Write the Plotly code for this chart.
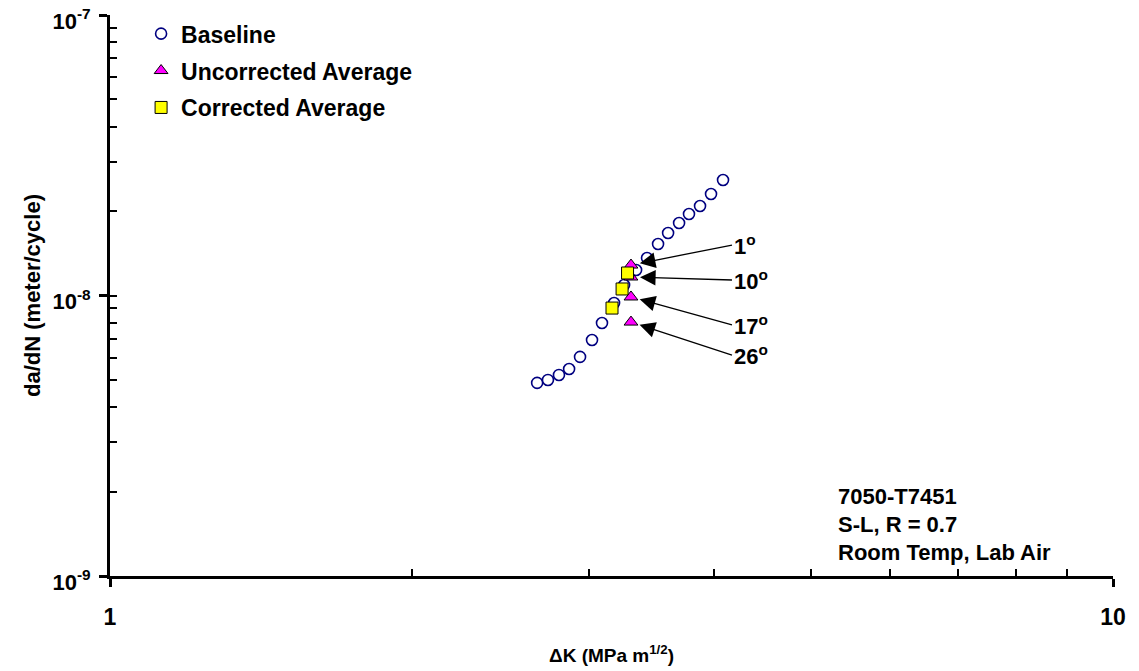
import plotly.graph_objects as go
import numpy as np

# ---- data ----
baseline_dk = [2.666, 2.733, 2.803, 2.869, 2.942, 3.024, 3.094, 3.181, 3.255, 3.346,
               3.431, 3.519, 3.601, 3.693, 3.778, 3.875, 3.974, 4.085]
baseline_dadn = [4.88e-9, 5.00e-9, 5.21e-9, 5.47e-9, 6.04e-9, 6.94e-9, 7.98e-9, 9.40e-9,
                 1.09e-8, 1.233e-8, 1.36e-8, 1.526e-8, 1.67e-8, 1.813e-8, 1.952e-8,
                 2.085e-8, 2.30e-8, 2.58e-8]

uncorr_dk = [3.307, 3.307, 3.307, 3.307]
uncorr_dadn = [1.284e-8, 1.164e-8, 9.88e-9, 8.04e-9]
angle_labels = ["1", "10", "17", "26"]

corr_dk = [3.281, 3.240, 3.166]
corr_dadn = [1.203e-8, 1.055e-8, 9.02e-9]

info_lines = ["7050-T7451", "S-L, R = 0.7", "Room Temp, Lab Air"]

x_tickvals = [1, 10]
x_ticktext = ["1", "10"]
y_tickvals = [1e-9, 1e-8, 1e-7]
y_ticktext = ["10<sup>-9</sup>", "10<sup>-8</sup>", "10<sup>-7</sup>"]

FONT = "Liberation Sans, Arial, sans-serif"

fig = go.Figure()
# invisible helper trace so the overlay (minor-tick) axes are drawn
fig.add_trace(go.Scatter(
    x=baseline_dk, y=baseline_dadn, xaxis="x2", yaxis="y2", mode="markers",
    marker=dict(opacity=0), showlegend=False, hoverinfo="skip"))
fig.add_trace(go.Scatter(
    x=baseline_dk, y=baseline_dadn, mode="markers", name="Baseline",
    legendgroup="a",
    marker=dict(symbol="circle", size=11, color="white",
                line=dict(color="#000080", width=1.6))))
fig.add_trace(go.Scatter(
    x=uncorr_dk, y=uncorr_dadn, mode="markers", name="Uncorrected Average",
    legendgroup="b",
    marker=dict(symbol="triangle-up", size=12, color="#FF00FF",
                line=dict(color="black", width=1))))
fig.add_trace(go.Scatter(
    x=corr_dk, y=corr_dadn, mode="markers", name="Corrected Average",
    legendgroup="c",
    marker=dict(symbol="square", size=12, color="#FFFF00",
                line=dict(color="black", width=1))))

offsets = [(101, -20), (101, 3), (101, 28), (101, 33)]
for xv, yv, lab, (axp, ayp) in zip(uncorr_dk, uncorr_dadn, angle_labels, offsets):
    fig.add_annotation(
        x=np.log10(xv), y=np.log10(yv), xref="x", yref="y",
        text="<b>%s<sup>o</sup></b>" % lab, showarrow=True,
        ax=axp, ay=ayp, xanchor="left", yanchor="middle",
        arrowhead=2, arrowsize=2.4, arrowwidth=1.3, arrowcolor="black",
        standoff=9, font=dict(family=FONT, size=22, color="black"))

for i, line in enumerate(info_lines):
    fig.add_annotation(
        x=0.724, y=0.141 - i * 0.05, xref="paper", yref="paper",
        text="<b>%s</b>" % line, showarrow=False, xanchor="left", yanchor="middle",
        font=dict(family=FONT, size=22, color="black"))

x_minor = [k * 10 ** e for e in [0] for k in range(1, 10)] + [10]
y_minor = [k * 10.0 ** e for e in [-9, -8] for k in range(1, 10)] + [1e-7]

fig.update_layout(
    width=1139, height=671,
    margin=dict(l=110, r=26, t=15, b=95, autoexpand=False),
    paper_bgcolor="white", plot_bgcolor="white",
    font=dict(family=FONT, color="black"),
    showlegend=True,
    legend=dict(x=0.031, y=1.005, xanchor="left", yanchor="top",
                bgcolor="rgba(0,0,0,0)", borderwidth=0,
                font=dict(family=FONT, size=23, color="black", weight="bold"),
                tracegroupgap=4, itemwidth=30),
    xaxis=dict(type="log", range=[0, 1], tickvals=x_tickvals, ticktext=x_ticktext,
               ticks="outside", ticklen=8, tickwidth=2.5, tickcolor="black",
               showline=True, linewidth=3, linecolor="black", showgrid=False,
               zeroline=False, ticklabelstandoff=10, automargin=False,
               ticklabeloverflow="allow",
               tickfont=dict(family=FONT, size=23, color="black", weight="bold"),
               title=dict(text="<b>ΔK (MPa m<sup>1/2</sup>)</b>",
                          font=dict(family=FONT, size=19, color="black"), standoff=21)),
    yaxis=dict(type="log", range=[-9, -7], tickvals=y_tickvals, ticktext=y_ticktext,
               ticks="outside", ticklen=8, tickwidth=2.5, tickcolor="black",
               showline=True, linewidth=3, linecolor="black", showgrid=False,
               zeroline=False, ticklabelstandoff=4, automargin=False,
               ticklabeloverflow="allow", ticklabelshift=6,
               tickfont=dict(family=FONT, size=22, color="black", weight="bold"),
               title=dict(text="<b>da/dN (meter/cycle)</b>",
                          font=dict(family=FONT, size=22, color="black"), standoff=6)),
    xaxis2=dict(type="log", range=[0, 1], overlaying="x", anchor="y", side="bottom",
                tickvals=x_minor, ticks="inside", ticklen=7, tickwidth=2,
                tickcolor="black", showticklabels=False, showline=False,
                showgrid=False, zeroline=False, automargin=False),
    yaxis2=dict(type="log", range=[-9, -7], overlaying="y", anchor="x", side="left",
                tickvals=y_minor, ticks="inside", ticklen=7, tickwidth=2,
                tickcolor="black", showticklabels=False, showline=False,
                showgrid=False, zeroline=False, automargin=False),
)

fig.write_html("out.html")
